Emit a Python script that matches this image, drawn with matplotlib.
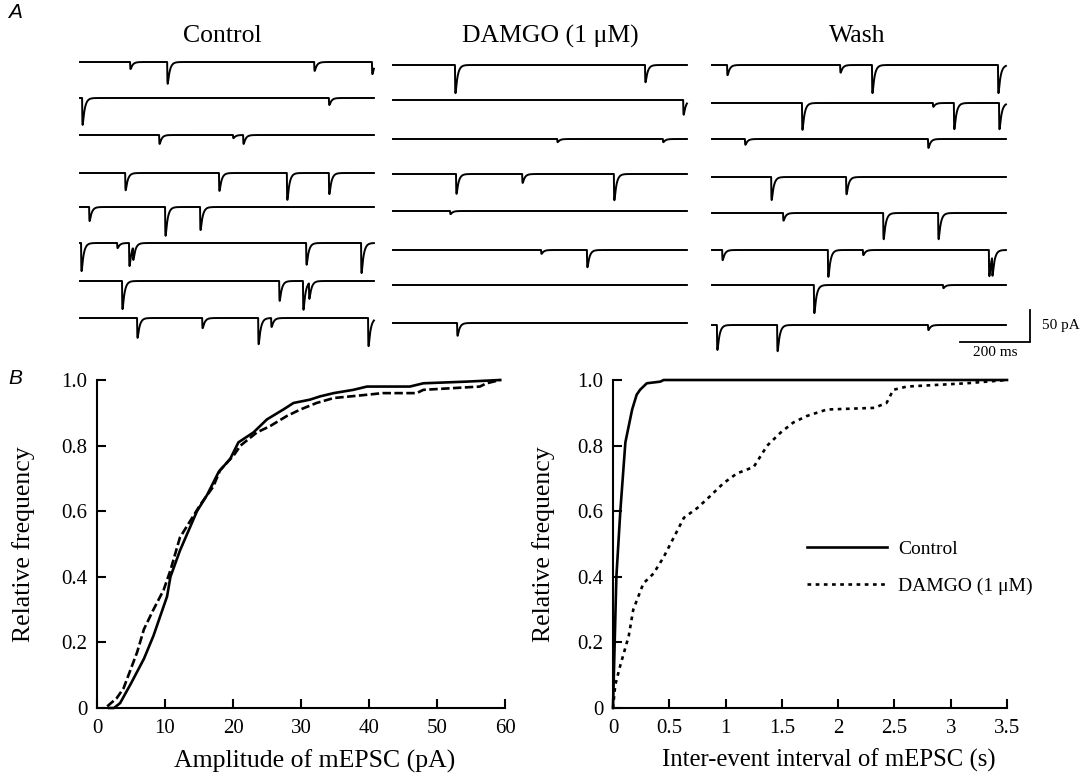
import numpy as np
import matplotlib.pyplot as plt

plt.rcParams['font.family'] = ['Liberation Serif', 'DejaVu Serif']

W, H = 1083, 774

# ---- panel A: miniature EPSC events, (time ms, amplitude pA) per sweep ----
trace_len_ms = 840
conditions = ["Control", "DAMGO (1 \u03bcM)", "Wash"]

control_events = [
    [(143, 11), (249, 34), (669, 14), (834, 19)],
    [(6, 42), (711, 11)],
    [(226, 14), (437, 5), (466, 14)],
    [(129, 27), (397, 28), (591, 42), (711, 33)],
    [(26, 22), (243, 45), (343, 36)],
    [(3, 44), (106, 8), (140, 36), (151, 20), (646, 34), (803, 47)],
    [(120, 44), (569, 31), (637, 45), (654, 25)],
    [(163, 31), (349, 16), (509, 41), (546, 14), (823, 44)],
]
damgo_events = [
    [(177, 44), (720, 27)],
    [(829, 23)],
    [(469, 5), (771, 5)],
    [(180, 31), (369, 14), (631, 41)],
    [(163, 5)],
    [(423, 6), (554, 27)],
    [],
    [(183, 20)],
]
wash_events = [
    [(43, 16), (366, 12), (457, 44), (817, 44)],
    [(257, 42), (631, 6), (691, 41), (820, 41)],
    [(94, 9), (617, 14)],
    [(169, 36), (383, 27)],
    [(203, 12), (489, 41), (646, 41)],
    [(29, 16), (331, 42), (431, 8), (791, 41), (800, 30)],
    [(291, 44), (660, 5)],
    [(14, 39), (186, 41), (617, 8)],
]

# ---- panel B: cumulative distributions ----
amp_ctrl_x = [1.8, 2.5, 3.4, 5.0, 6.9, 8.3, 10.3, 10.8, 12.2, 14.7, 16.2, 17.9, 19.6, 20.8,
              23.0, 25.0, 27.4, 28.9, 31.3, 32.8, 34.8, 37.7, 39.7, 46.0, 48.0, 54.3, 59.3]
amp_ctrl_y = [0, 0, 0.015, 0.075, 0.15, 0.22, 0.34, 0.40, 0.48, 0.60, 0.65, 0.72, 0.76, 0.81,
              0.84, 0.88, 0.91, 0.93, 0.94, 0.95, 0.96, 0.97, 0.98, 0.98, 0.99, 0.995, 1.0]
amp_damgo_x = [1.5, 2.9, 3.9, 5.9, 6.9, 8.3, 9.8, 10.8, 12.2, 14.0, 15.2, 17.1, 18.1, 20.1,
               21.1, 23.5, 25.5, 27.9, 29.9, 32.3, 34.8, 39.7, 42.0, 47.0, 48.0, 56.3, 57.3, 59.3]
amp_damgo_y = [0.005, 0.03, 0.06, 0.17, 0.24, 0.30, 0.36, 0.42, 0.52, 0.58, 0.62, 0.675, 0.725, 0.77,
               0.80, 0.84, 0.86, 0.89, 0.91, 0.93, 0.945, 0.955, 0.96, 0.96, 0.97, 0.98, 0.99, 1.0]

ivi_ctrl_x = [0, 0.03, 0.065, 0.11, 0.14, 0.17, 0.21, 0.24, 0.30, 0.42, 0.45, 3.5]
ivi_ctrl_y = [0, 0.40, 0.60, 0.81, 0.86, 0.91, 0.955, 0.97, 0.99, 0.995, 1.0, 1.0]
ivi_damgo_x = [0, 0.02, 0.065, 0.14, 0.18, 0.27, 0.36, 0.45, 0.54, 0.63, 0.75, 0.86, 0.98, 1.10,
               1.25, 1.37, 1.49, 1.60, 1.72, 1.90, 2.32, 2.43, 2.49, 2.61, 3.14, 3.5]
ivi_damgo_y = [0, 0.07, 0.13, 0.22, 0.30, 0.38, 0.41, 0.46, 0.52, 0.58, 0.61, 0.645, 0.685, 0.715,
               0.735, 0.80, 0.84, 0.87, 0.89, 0.91, 0.915, 0.93, 0.97, 0.98, 0.99, 1.0]

amp_ticks = [0, 10, 20, 30, 40, 50, 60]
ivi_ticks = [0, 0.5, 1, 1.5, 2, 2.5, 3, 3.5]
ivi_ticklabels = ["0", "0.5", "1", "1.5", "2", "2.5", "3", "3.5"]
freq_ticks = [0, 0.2, 0.4, 0.6, 0.8, 1.0]
freq_ticklabels = ["0", "0.2", "0.4", "0.6", "0.8", "1.0"]

# layout (pixels of the reference)
MS_PER_PX = 200 / 70
PA_PER_PX = 50 / 32
col_x0 = [80, 393, 712]
row_y = [
    [62, 98, 135, 173, 207, 243, 281, 318],
    [65, 100, 139, 174, 211, 250, 285, 323],
    [65, 103, 139, 177, 213, 250, 285, 325],
]
title_x = [222, 550, 857]


def fx(px):
    return px / W


def fy(py):
    return 1 - py / H


def sweep(events, t, tau_r=0.6, tau_d=6.0):
    tp = tau_r * tau_d / (tau_d - tau_r) * np.log(tau_d / tau_r)
    kmax = np.exp(-tp / tau_d) - np.exp(-tp / tau_r)
    y = np.zeros_like(t)
    for t0, amp in events:
        s = t - t0
        m = s >= 0
        y[m] -= amp * (np.exp(-s[m] / tau_d) - np.exp(-s[m] / tau_r)) / kmax
    return y


fig = plt.figure(figsize=(W / 100, H / 100), dpi=100)

# ---- A ----
top_px, bot_px = 40, 370
ax_a = fig.add_axes([0, fy(bot_px), 1, (bot_px - top_px) / H])
ax_a.set_xlim(0, W * MS_PER_PX)
ax_a.set_ylim(-(bot_px - top_px) * PA_PER_PX, 0)
ax_a.axis('off')

t = np.arange(0, trace_len_ms, 0.25)
for ci, evs in enumerate([control_events, damgo_events, wash_events]):
    x0 = col_x0[ci] * MS_PER_PX
    for ri, ev in enumerate(evs):
        base = -(row_y[ci][ri] - top_px) * PA_PER_PX
        ax_a.plot(x0 + t, base + sweep(ev, t), color='black', lw=1.4)
    fig.text(fx(title_x[ci]), fy(36), conditions[ci], fontsize=18.5,
             ha='center', va='center')

# scale bar
xc = 1030 * MS_PER_PX
yc = -(342 - top_px) * PA_PER_PX
ax_a.plot([xc - 200, xc, xc], [yc, yc, yc + 50], color='black', lw=1.3,
          solid_joinstyle='miter')
ax_a.text(xc + 12 * MS_PER_PX, yc + 25, "50 pA", fontsize=11, ha='left', va='center')
ax_a.text(xc - 100, yc - 6, "200 ms", fontsize=11, ha='center', va='top')

fig.text(fx(8), fy(12), "A", fontsize=15, style='italic', family='Liberation Sans',
         ha='left', va='center')
fig.text(fx(8), fy(378), "B", fontsize=15, style='italic', family='Liberation Sans',
         ha='left', va='center')

# ---- B ----
ax_top, ax_bot = 380, 708
ax1 = fig.add_axes([fx(97), fy(ax_bot), (505 - 97) / W, (ax_bot - ax_top) / H])
ax2 = fig.add_axes([fx(613), fy(ax_bot), (1007 - 613) / W, (ax_bot - ax_top) / H])

ax1.plot(amp_ctrl_x, amp_ctrl_y, color='black', lw=1.9, clip_on=False, label="Control")
ax1.plot(amp_damgo_x, amp_damgo_y, color='black', lw=1.9, clip_on=False,
         dashes=(3.2, 1.3), label="DAMGO (1 \u03bcM)")
ax1.set_xlim(0, 60)
ax1.set_xticks(amp_ticks)
ax1.set_xlabel("Amplitude of mEPSC (pA)", fontsize=18.5)
ax1.xaxis.set_label_coords((315 - 97) / 408, (708 - 750) / 328)

l1, = ax2.plot(ivi_ctrl_x, ivi_ctrl_y, color='black', lw=1.9, clip_on=False)
l2, = ax2.plot(ivi_damgo_x, ivi_damgo_y, color='black', lw=1.9, clip_on=False,
               dashes=(1.4, 1.7))
ax2.set_xlim(0, 3.5)
ax2.set_xticks(ivi_ticks)
ax2.set_xticklabels(ivi_ticklabels)
ax2.set_xlabel("Inter-event interval of mEPSC (s)", fontsize=17.8)
ax2.xaxis.set_label_coords((829 - 613) / 394, (708 - 749) / 328)

ax2.legend([l1, l2], ["Control", "DAMGO (1 \u03bcM)"], loc='center left',
           bbox_to_anchor=((807 - 613) / 394, (708 - 568) / 328), frameon=False,
           fontsize=14, handlelength=4.1, handletextpad=0.6, labelspacing=1.0,
           borderpad=0, borderaxespad=0)

for ax, lx in [(ax1, (35 - 97) / 408), (ax2, (555 - 613) / 394)]:
    ax.set_ylim(0, 1)
    ax.set_yticks(freq_ticks)
    ax.set_yticklabels(freq_ticklabels)
    ax.set_ylabel("Relative frequency", fontsize=18.5)
    ax.yaxis.set_label_coords(lx, 0.5)
    for s in ['top', 'right']:
        ax.spines[s].set_visible(False)
    for s in ['left', 'bottom']:
        ax.spines[s].set_linewidth(1.5)
    ax.tick_params(direction='in', length=6.5, width=1.5, labelsize=15)
    ax.tick_params(axis='x', pad=8)
    ax.tick_params(axis='y', pad=7)
    ax.patch.set_visible(False)

fig.savefig("out.png", dpi=100)
